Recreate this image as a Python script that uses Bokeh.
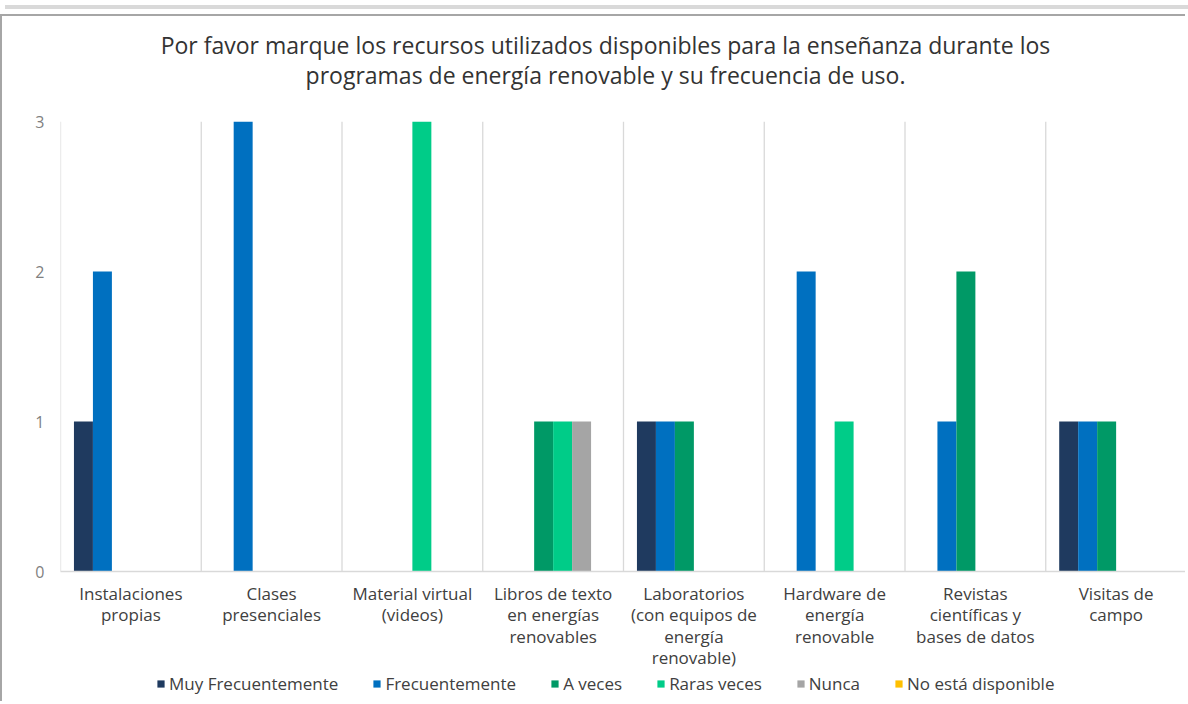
from bokeh.plotting import figure
from bokeh.models import FactorRange, Range1d, Span, Label, Legend, LegendItem, Div, FixedTicker
from bokeh.transform import dodge
from bokeh.layouts import column
from bokeh.embed import file_html
from bokeh.resources import INLINE

categories = [
    "Instalaciones\npropias",
    "Clases\npresenciales",
    "Material virtual\n(videos)",
    "Libros de texto\nen energías\nrenovables",
    "Laboratorios\n(con equipos de\nenergía\nrenovable)",
    "Hardware de\nenergía\nrenovable",
    "Revistas\ncientíficas y\nbases de datos",
    "Visitas de\ncampo",
]
series_names = ["Muy Frecuentemente", "Frecuentemente", "A veces", "Raras veces", "Nunca", "No está disponible"]
muy_frecuentemente = [1, 0, 0, 0, 1, 0, 0, 1]
frecuentemente = [2, 3, 0, 0, 1, 2, 1, 1]
a_veces = [0, 0, 0, 1, 1, 0, 2, 1]
raras_veces = [0, 0, 3, 1, 0, 1, 0, 0]
nunca = [0, 0, 0, 1, 0, 0, 0, 0]
no_disponible = [0, 0, 0, 0, 0, 0, 0, 0]
series_values = [muy_frecuentemente, frecuentemente, a_veces, raras_veces, nunca, no_disponible]
colors = ["#1F3A5F", "#0070C0", "#009966", "#00CC88", "#A5A5A5", "#FFC000"]
y_ticks = [0, 1, 2, 3]
title_lines = [
    "Por favor marque los recursos utilizados disponibles para la enseñanza durante los",
    "programas de energía renovable y su frecuencia de uso.",
]

FONT = "Open Sans"
W = 1185
LEFT = 58
BORDER = "2px solid #a6a6a6"

data = {"cat": categories}
for i, vals in enumerate(series_values):
    data[f"s{i}"] = vals

# ---- title strip ----
pt = figure(
    width=W, height=95, output_backend="svg", toolbar_location=None,
    x_axis_location=None, y_axis_location=None,
    min_border_left=LEFT, min_border_right=1, min_border_top=0, min_border_bottom=0,
    x_range=Range1d(0, 1), y_range=Range1d(0, 1),
)
pt.outline_line_color = None
pt.xgrid.visible = False
pt.ygrid.visible = False
for line, ypos in zip(title_lines, [67, 37]):
    pt.add_layout(Label(x=545, y=ypos, x_units="screen", y_units="screen", text=line,
                        text_align="center", text_baseline="middle", text_font=FONT,
                        text_font_size="23px", text_color="#333333"))
pt.styles = {"border-top": BORDER, "border-left": BORDER}

# ---- main chart ----
p = figure(
    x_range=FactorRange(*categories, range_padding=0, factor_padding=0),
    y_range=Range1d(0, 3),
    width=W, height=564,
    output_backend="svg", toolbar_location=None,
    min_border_left=LEFT, min_border_right=1, min_border_top=12, min_border_bottom=102,
    background_fill_color="white", border_fill_color="white",
)
p.outline_line_color = None
p.xgrid.visible = False
p.ygrid.visible = False

bw = 0.1348
for i, name in enumerate(series_names):
    p.vbar(x=dodge("cat", (i - 2.5) * bw, range=p.x_range), top=f"s{i}", width=bw,
           source=data, color=colors[i], line_color=None)

for k in range(len(categories) + 1):
    p.add_layout(Span(location=k, dimension="height", line_color="#d9d9d9", line_width=1.3))

p.xaxis.axis_line_color = "#d9d9d9"
p.xaxis.axis_line_width = 1.3
p.xaxis.major_tick_line_color = None
p.xaxis.minor_tick_line_color = None
p.xaxis.major_tick_out = 0
p.xaxis.major_tick_in = 0
p.xaxis.major_label_text_font = FONT
p.xaxis.major_label_text_font_size = "17px"
p.xaxis.major_label_text_color = "#404040"
p.xaxis.major_label_standoff = 10
p.xaxis.major_label_text_line_height = 0.94

p.yaxis.ticker = FixedTicker(ticks=y_ticks)
p.yaxis.axis_line_color = None
p.yaxis.major_tick_line_color = None
p.yaxis.minor_tick_line_color = None
p.yaxis.major_label_text_font = FONT
p.yaxis.major_label_text_font_size = "16px"
p.yaxis.major_label_text_color = "#7f7f7f"
p.yaxis.major_label_standoff = 10
p.styles = {"border-left": BORDER}

# ---- legend strip (same series data; bars lie outside its view) ----
pl = figure(
    width=W, height=28, output_backend="svg", toolbar_location=None,
    x_axis_location=None, y_axis_location=None,
    min_border_left=LEFT, min_border_right=1, min_border_top=0, min_border_bottom=0,
    x_range=FactorRange(*categories), y_range=Range1d(10, 11),
)
pl.outline_line_color = None
pl.xgrid.visible = False
pl.ygrid.visible = False
legend_renderers = []
for i, name in enumerate(series_names):
    legend_renderers.append(pl.vbar(x=dodge("cat", (i - 2.5) * bw, range=pl.x_range), top=f"s{i}",
                                    width=bw, source=data, color=colors[i], line_color=None))
legend = Legend(
    items=[LegendItem(label=n, renderers=[r]) for n, r in zip(series_names, legend_renderers)],
    orientation="horizontal", location=(96, 6),
    label_text_font=FONT, label_text_font_size="17px", label_text_color="#404040",
    glyph_width=9, glyph_height=9, label_standoff=4, spacing=34,
    padding=0, margin=0, border_line_color=None, background_fill_alpha=0,
)
pl.add_layout(legend, "center")
pl.styles = {"border-left": BORDER}

band = Div(width=W, height=4, styles={"background-color": "#d9d9d9"})
layout = column(band, pt, p, pl, spacing=0)

open("out.html", "w").write(file_html(layout, INLINE))
